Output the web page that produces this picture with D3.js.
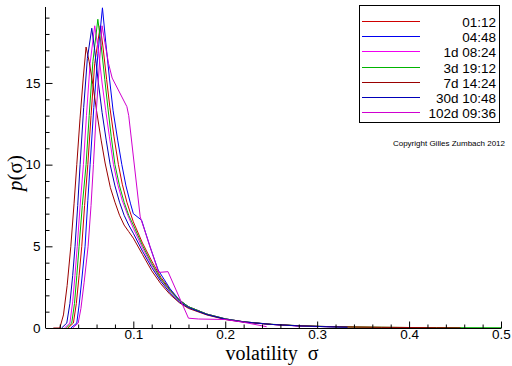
<!DOCTYPE html>
<html><head><meta charset="utf-8">
<script src="https://cdn.jsdelivr.net/npm/d3@7"></script>
<style>html,body{margin:0;padding:0;background:#fff;}svg{display:block;}</style>
</head><body><svg id="c" width="512" height="366"></svg>
<script>
// ---- data (sigma, p) ----
const labels = ["01:12","04:48","1d 08:24","3d 19:12","7d 14:24","30d 10:48","102d 09:36"];
const colors = ["#d00000","#0000f0","#f000f0","#00b400","#9a0000","#0000b8","#d000d0"];
const s0112 = [[0.029,0],[0.0348,0.3],[0.038,1.5],[0.041,3.2],[0.0439,5],[0.047,7.5],[0.0505,10],[0.054,13],[0.058,16.2],[0.064,18.5],[0.067,17.2],[0.071,15.2],[0.0745,13.5],[0.079,11.7],[0.0838,10],[0.088,8.8],[0.093,7.7],[0.1,6.5],[0.11,5.2],[0.12,4.1],[0.13,3.1],[0.14,2.35],[0.15,1.72],[0.16,1.3],[0.18,0.85],[0.2,0.56],[0.22,0.38],[0.25,0.22],[0.28,0.13],[0.31,0.08],[0.34,0.06],[0.37,0.04],[0.4,0.03]];
const s0448 = [[0.032,0],[0.0385,0.3],[0.041,1.4],[0.044,3],[0.0475,5],[0.0505,7.8],[0.053,10],[0.057,13.5],[0.0615,16.8],[0.0664,19.6],[0.07,17.5],[0.074,15.3],[0.078,13.3],[0.083,11.5],[0.0875,10],[0.092,8.7],[0.097,7.6],[0.1,7.0],[0.109,6.6],[0.118,5.0],[0.127,3.55],[0.14,2.4],[0.15,1.72],[0.16,1.3],[0.18,0.85],[0.2,0.56],[0.22,0.38],[0.25,0.22],[0.28,0.13],[0.31,0.08],[0.333,0.05]];
const s1d0824 = [[0.025,0],[0.031,0.3],[0.034,1.6],[0.0365,3.2],[0.039,5],[0.042,7.4],[0.0457,10],[0.049,13],[0.053,16.2],[0.058,18.5],[0.062,17.0],[0.066,15.0],[0.07,13.3],[0.074,11.7],[0.0784,10],[0.083,8.8],[0.088,7.8],[0.094,6.9],[0.1,6.1],[0.11,4.9],[0.12,3.85],[0.13,2.95],[0.14,2.25],[0.15,1.65],[0.16,1.28],[0.18,0.84],[0.2,0.55],[0.22,0.38],[0.25,0.22],[0.28,0.12],[0.3,0.08]];
const s3d1912 = [[0.027,0],[0.033,0.3],[0.036,1.5],[0.0385,3.2],[0.041,5],[0.0445,7.5],[0.0486,10],[0.052,13],[0.056,16.3],[0.0614,18.9],[0.065,17.3],[0.069,15.2],[0.0725,13.4],[0.076,11.7],[0.08,10],[0.085,8.7],[0.09,7.7],[0.095,6.9],[0.1,6.3],[0.11,5.05],[0.12,3.95],[0.13,3.0],[0.14,2.3],[0.15,1.7],[0.16,1.3],[0.18,0.85],[0.2,0.56],[0.22,0.38],[0.25,0.23],[0.28,0.14],[0.31,0.09],[0.34,0.06],[0.37,0.045],[0.4,0.03],[0.43,0.025],[0.46,0.02],[0.5,0.015]];
const s7d1424 = [[0.013,0],[0.020,0],[0.024,0.8],[0.028,2.6],[0.032,5.0],[0.0355,7.6],[0.0385,10],[0.042,12.8],[0.0455,15.3],[0.0486,17.2],[0.052,16.3],[0.056,14.9],[0.06,13.3],[0.065,11.5],[0.0693,10.1],[0.075,8.6],[0.08,7.7],[0.085,6.9],[0.09,6.3],[0.095,5.9],[0.1,5.5],[0.11,4.5],[0.12,3.5],[0.13,2.7],[0.14,2.05],[0.15,1.55],[0.16,1.2],[0.18,0.8],[0.2,0.52],[0.22,0.36],[0.25,0.22],[0.28,0.14],[0.31,0.09],[0.34,0.06],[0.37,0.04],[0.4,0.03],[0.43,0.02],[0.456,0.01]];
const s30d1048 = [[0.022,0],[0.0276,0.3],[0.031,1.5],[0.034,3.2],[0.0366,5],[0.0395,7.5],[0.0421,10],[0.046,13.5],[0.05,16.5],[0.0548,18.35],[0.058,17.0],[0.062,15.0],[0.066,13.2],[0.0705,11.5],[0.0748,10],[0.08,8.7],[0.085,7.7],[0.09,6.9],[0.095,6.3],[0.1,5.8],[0.11,4.7],[0.12,3.7],[0.13,2.85],[0.14,2.15],[0.15,1.6],[0.16,1.25],[0.18,0.82],[0.2,0.54],[0.22,0.37],[0.25,0.22],[0.28,0.13],[0.31,0.08],[0.333,0.05]];
const s102d0936 = [[0.034,0],[0.040,0.3],[0.043,1.2],[0.0465,2.8],[0.0508,5],[0.054,7.5],[0.0566,10],[0.06,13.5],[0.0635,16.5],[0.066,18.5],[0.069,17.5],[0.073,16.2],[0.077,15.3],[0.093,13.55],[0.095,13.0],[0.1075,6.8],[0.1275,3.4],[0.1377,3.45],[0.16,0.6],[0.171,0.55],[0.2,0.52],[0.22,0.35],[0.245,0.08]];
const series = [s0112, s0448, s1d0824, s3d1912, s7d1424, s30d1048, s102d0936];
const xMajor = [0.1,0.2,0.3,0.4,0.5];
const yMajor = [0,5,10,15];

// ---- drawing ----
const svg = d3.select("#c");
const x = d3.scaleLinear().domain([0.005,0.5]).range([46,501]);
const y = d3.scaleLinear().domain([0,19.65]).range([328,7]);
const tickFont = "'Liberation Sans', Arial, sans-serif";

const line = d3.line().x(d=>x(d[0])).y(d=>y(d[1]));
const g = svg.append("g");
series.forEach((s,i)=>{
  g.append("path").attr("d",line(s)).style("fill","none")
   .style("stroke",colors[i]).style("stroke-width","1px");
});

// x axis
const xAxis = d3.axisBottom(x).tickValues(xMajor).tickSize(-7).tickPadding(1).tickFormat(d3.format(".1f"));
const gx = svg.append("g").attr("transform",`translate(0,${y(0)+0.5})`).call(xAxis);
gx.select(".domain").attr("d",`M${x(0.005)},0H${x(0.5)}`);
gx.selectAll("text").attr("font-family",tickFont).attr("font-size",13.5).attr("fill","#000");
const xMinor = d3.range(1,25).map(k=>k*0.02).filter(v=>Math.abs(v*10-Math.round(v*10))>1e-6);
gx.selectAll("line.minor").data(xMinor).enter().append("line").attr("class","minor")
  .attr("x1",d=>x(d)+0.5).attr("x2",d=>x(d)+0.5).attr("y1",0).attr("y2",-4).attr("stroke","#000");

// y axis
const yAxis = d3.axisLeft(y).tickValues(yMajor).tickSize(-7).tickPadding(5);
const gy = svg.append("g").attr("transform",`translate(${x(0.005)-0.5},0)`).call(yAxis);
gy.select(".domain").attr("d",`M0,${y(19.65)}V${y(0)}`);
gy.selectAll("text").attr("font-family",tickFont).attr("font-size",13.5).attr("fill","#000");
const yMinor = d3.range(1,20).filter(v=>v%5!==0);
gy.selectAll("line.minor").data(yMinor).enter().append("line").attr("class","minor")
  .attr("y1",d=>y(d)+0.5).attr("y2",d=>y(d)+0.5).attr("x1",0).attr("x2",4).attr("stroke","#000");

// axis titles
const serif = "'Liberation Serif','Times New Roman',serif";
const yt = svg.append("text").attr("transform","translate(22,173) rotate(-90)")
  .attr("text-anchor","middle").attr("font-family",serif).attr("font-size",21);
yt.append("tspan").attr("font-style","italic").text("p");
yt.append("tspan").text("(σ)");
svg.append("text").attr("x",272).attr("y",360).attr("text-anchor","middle")
  .attr("font-family",serif).attr("font-size",20).attr("xml:space","preserve").text("volatility  σ");

// legend
const lg = svg.append("g");
lg.append("rect").attr("x",359.5).attr("y",5.5).attr("width",140).attr("height",117)
  .style("fill","#fff").style("stroke","#000");
labels.forEach((l,i)=>{
  const yy = Math.round(21 + i*15.2) + 0.5;
  lg.append("path").attr("d",`M362,${yy}H420`).style("fill","none").style("stroke",colors[i]).style("stroke-width","1px");
  lg.append("text").attr("x",496).attr("y",yy+5).attr("text-anchor","end")
    .attr("font-family",tickFont).attr("font-size",13.5).text(l);
});
svg.append("text").attr("x",505).attr("y",146).attr("text-anchor","end")
  .attr("font-family",tickFont).attr("font-size",8).text("Copyright Gilles Zumbach 2012");
</script></body></html>
